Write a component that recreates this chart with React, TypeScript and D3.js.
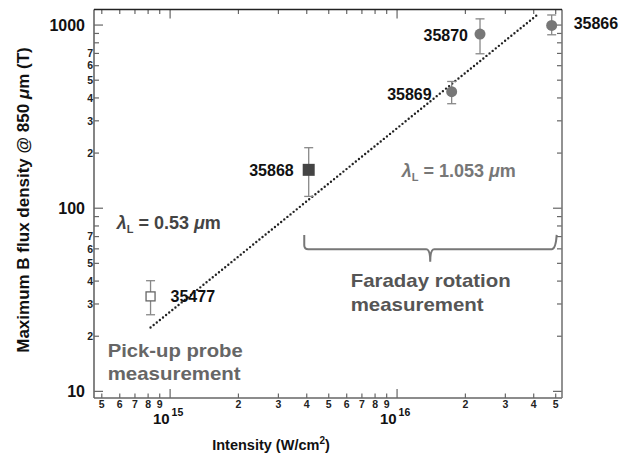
import React from "react";
import * as d3 from "d3";

// ---- data ----
const shots = ["35477", "35868", "35869", "35870", "35866"];
const intensity = [8.2e14, 4.08e15, 1.74e16, 2.32e16, 4.8e16];
const bField = [33, 162, 433, 893, 995];
const errLow = [26.2, 116, 372, 697, 885];
const errHigh = [40.2, 214, 492, 1081, 1135];
const markers = ["openSquare", "filledSquare", "circle", "circle", "circle"];
const fitX = [8.2e14, 4.12e16];
const fitY = [22.3, 1130];
const braceX = [3.9e15, 1.4e16, 5.0e16];
const braceY = [71.5, 59.7, 51];

const xMinorTicks = [5e14, 6e14, 7e14, 8e14, 9e14, 2e15, 3e15, 4e15, 5e15, 6e15, 7e15, 8e15, 9e15, 2e16, 3e16, 4e16, 5e16];
const xMinorLabels = ["5", "6", "7", "8", "9", "2", "3", "4", "5", "6", "7", "8", "9", "2", "3", "4", "5"];
const xMajorTicks = [1e15, 1e16];
const xMajorExp = ["15", "16"];
const yMajorTicks = [10, 100, 1000];
const yMajorLabels = ["10", "100", "1000"];
const yMinorTicks = [20, 30, 40, 50, 60, 70, 80, 90, 200, 300, 400, 500, 600, 700, 800, 900];
const yMinorLabels = ["2", "3", "4", "5", "6", "7", "", "", "2", "3", "4", "5", "6", "7", "", ""];

const W = 634, H = 457;
const L = 94, R = 562, T = 9.5, B = 398;
const FONT = "'Liberation Sans', Arial, Helvetica, sans-serif";

export default function App() {
  const x = d3.scaleLog().domain([4.62e14, 5.33e16]).range([L, R]);
  const y = d3.scaleLog().domain([9.2, 1216]).range([B, T]);
  const axisCol = "#666";
  const fitLine = d3.line<number>().x((d, i) => x(fitX[i])).y((d, i) => y(fitY[i]));

  const bx0 = x(braceX[0]), bxm = x(braceX[1]), bx1 = x(braceX[2]);
  const byTop = y(braceY[0]), byLine = y(braceY[1]), byTip = y(braceY[2]);
  const r = 4;
  const bracePath = `M${bx0},${byTop} L${bx0},${byLine - r} Q${bx0},${byLine} ${bx0 + r},${byLine} L${bxm - r},${byLine} Q${bxm},${byLine} ${bxm},${byTip} Q${bxm},${byLine} ${bxm + r},${byLine} L${bx1 - r},${byLine} Q${bx1},${byLine} ${bx1 + 1},${byTop}`;

  const labelOffsets: Record<string, [number, number, string]> = {
    "35477": [20, 6, "start"],
    "35868": [-15, 6, "end"],
    "35869": [-20, 8, "end"],
    "35870": [-12, 7, "end"],
    "35866": [22, 4, "start"],
  };

  return (
    <svg width={W} height={H} style={{ position: "absolute", left: 0, top: 0, background: "#fff" }} fontFamily={FONT}>
      <rect x={0} y={0} width={W} height={H} fill="#fff" />
      {/* ticks */}
      <g stroke={axisCol} strokeWidth={1.2}>
        {xMinorTicks.map((t, i) => (
          <g key={"xm" + i}>
            <line x1={x(t)} x2={x(t)} y1={B} y2={B - 4.5} />
            <line x1={x(t)} x2={x(t)} y1={T} y2={T + 4.5} />
          </g>
        ))}
        {xMajorTicks.map((t, i) => (
          <g key={"xM" + i}>
            <line x1={x(t)} x2={x(t)} y1={B} y2={B - 9} />
            <line x1={x(t)} x2={x(t)} y1={T} y2={T + 9} />
          </g>
        ))}
        {yMinorTicks.map((t, i) => (
          <g key={"ym" + i}>
            <line x1={L} x2={L + 5} y1={y(t)} y2={y(t)} />
            <line x1={R} x2={R - 5} y1={y(t)} y2={y(t)} />
          </g>
        ))}
        {yMajorTicks.map((t, i) => (
          <g key={"yM" + i}>
            <line x1={L} x2={L + 9} y1={y(t)} y2={y(t)} />
            <line x1={R} x2={R - 9} y1={y(t)} y2={y(t)} />
          </g>
        ))}
      </g>
      {/* frame */}
      <line x1={L} x2={L} y1={T} y2={B} stroke={axisCol} strokeWidth={1.6} />
      <line x1={L} x2={R} y1={B} y2={B} stroke={axisCol} strokeWidth={1.6} />
      <line x1={R} x2={R} y1={T} y2={B} stroke="#777" strokeWidth={1.6} />
      <line x1={L} x2={R} y1={T} y2={T} stroke="#222" strokeWidth={1.6} />

      {/* x tick labels */}
      <g fontWeight="bold" fill="#222" fontSize={10.5} textAnchor="middle">
        {xMinorTicks.map((t, i) => (
          <text key={"xl" + i} x={x(t)} y={408}>{xMinorLabels[i]}</text>
        ))}
      </g>
      {xMajorTicks.map((t, i) => (
        <g key={"xe" + i} fontWeight="bold" fill="#111">
          <text x={x(t) - 0.5} y={424} fontSize={15} textAnchor="end">10</text>
          <text x={x(t) + 1.5} y={416} fontSize={10.5} textAnchor="start">{xMajorExp[i]}</text>
        </g>
      ))}
      {/* y tick labels */}
      <g fontWeight="bold" fill="#111" fontSize={16} textAnchor="end">
        {yMajorTicks.map((t, i) => (
          <text key={"yl" + i} x={85} y={y(t) + 5.5}>{yMajorLabels[i]}</text>
        ))}
      </g>
      <g fontWeight="bold" fill="#222" fontSize={10.5} textAnchor="end">
        {yMinorTicks.map((t, i) => (
          <text key={"ymL" + i} x={93} y={y(t) + 3.8}>{yMinorLabels[i]}</text>
        ))}
      </g>

      {/* axis titles */}
      <text x={271} y={450} textAnchor="middle" fontWeight="bold" fontSize={14.5} fill="#111">
        Intensity (W/cm<tspan fontSize={10} dy={-6}>2</tspan><tspan dy={6}>)</tspan>
      </text>
      <text transform={`translate(28.5,200) rotate(-90)`} textAnchor="middle" fontWeight="bold" fontSize={17} fill="#111">
        Maximum B flux density @ 850 <tspan fontStyle="italic">μ</tspan>m (T)
      </text>

      {/* fit line */}
      <path d={fitLine(fitX) || ""} fill="none" stroke="#222" strokeWidth={2.4} strokeDasharray="0 4" strokeLinecap="round" />

      {/* brace */}
      <path d={bracePath} fill="none" stroke="#777" strokeWidth={2} />

      {/* error bars and markers */}
      {shots.map((s, i) => {
        const px = x(intensity[i]), py = y(bField[i]);
        const yl = y(errLow[i]), yh = y(errHigh[i]);
        const m = markers[i];
        const [dx, dy, anchor] = labelOffsets[s];
        return (
          <g key={s}>
            <g stroke="#888" strokeWidth={1.3}>
              <line x1={px} x2={px} y1={yl} y2={yh} />
              <line x1={px - 4.5} x2={px + 4.5} y1={yl} y2={yl} />
              <line x1={px - 4.5} x2={px + 4.5} y1={yh} y2={yh} />
            </g>
            {m === "circle" && <circle cx={px} cy={py} r={5.5} fill="#777" />}
            {m === "filledSquare" && <rect x={px - 6} y={py - 6} width={12} height={12} fill="#444" />}
            {m === "openSquare" && <rect x={px - 4.5} y={py - 4.5} width={9} height={9} fill="#fff" stroke="#666" strokeWidth={1.3} />}
            <text x={px + dx} y={py + dy} textAnchor={anchor as any} fontWeight="bold" fontSize={16} fill="#111">{s}</text>
          </g>
        );
      })}

      {/* annotations */}
      <text x={116.7} y={229} fontWeight="bold" fontSize={18} fill="#444">
        <tspan fontStyle="italic">λ</tspan><tspan fontSize={11} dy={4}>L</tspan><tspan dy={-4}> = 0.53 </tspan><tspan fontStyle="italic">μ</tspan>m
      </text>
      <text x={401.7} y={177} fontWeight="bold" fontSize={18} fill="#777">
        <tspan fontStyle="italic">λ</tspan><tspan fontSize={11} dy={4}>L</tspan><tspan dy={-4}> = 1.053 </tspan><tspan fontStyle="italic">μ</tspan>m
      </text>
      <g fontWeight="bold" fontSize={18.5} fill="#666">
        <text x={107.7} y={356.7} textLength={135} lengthAdjust="spacingAndGlyphs">Pick-up probe</text>
        <text x={107.7} y={380} textLength={133} lengthAdjust="spacingAndGlyphs">measurement</text>
      </g>
      <g fontWeight="bold" fontSize={18.5} fill="#555">
        <text x={350.7} y={286.7} textLength={160} lengthAdjust="spacingAndGlyphs">Faraday rotation</text>
        <text x={350.7} y={310.7} textLength={133} lengthAdjust="spacingAndGlyphs">measurement</text>
      </g>
    </svg>
  );
}
